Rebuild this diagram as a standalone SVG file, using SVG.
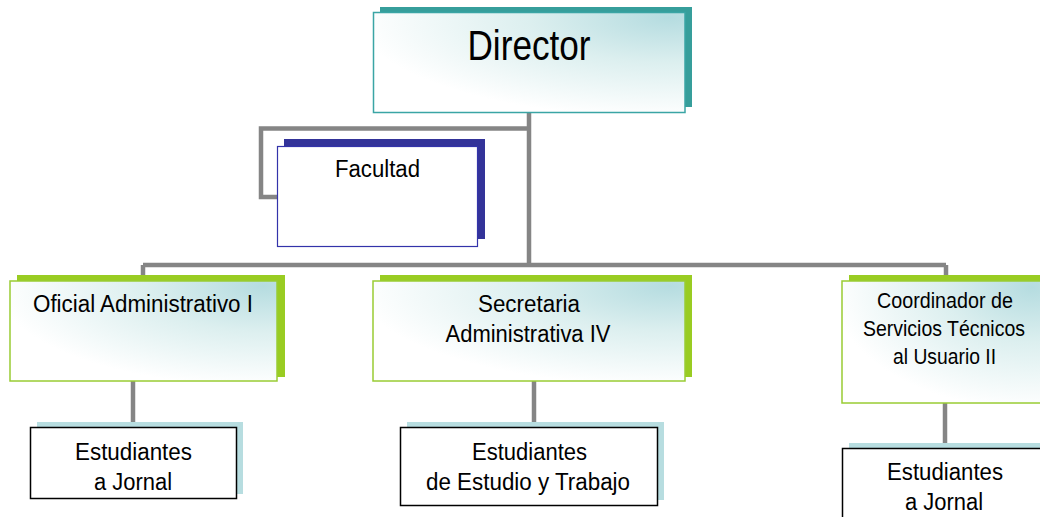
<svg xmlns="http://www.w3.org/2000/svg" width="1040" height="517" viewBox="0 0 1040 517">
<defs>
<radialGradient id="g" cx="0.95" cy="0.05" r="1.0" fx="0.95" fy="0.05">
<stop offset="0" stop-color="#b5dce0"/>
<stop offset="0.45" stop-color="#dcefef"/>
<stop offset="1" stop-color="#ffffff"/>
</radialGradient>
<style>
.t{font-family:"Liberation Sans",Arial,sans-serif;fill:#000;text-anchor:middle}
.con{fill:none;stroke:#858585;stroke-width:4.5}
.sh-teal{fill:#369e9b}
.sh-blue{fill:#333399}
.sh-green{fill:#99cc22}
.sh-light{fill:#b7dde0}
.f-teal{fill:url(#g);stroke:#3aa5a5;stroke-width:1.5}
.f-blue{fill:#fff;stroke:#3333aa;stroke-width:1.2}
.f-green{fill:url(#g);stroke:#99cc33;stroke-width:1.5}
.f-black{fill:#fff;stroke:#000;stroke-width:1.5}
</style>
</defs>
<rect width="1040" height="517" fill="#fff"/>
<g id="connectors">
<path class="con" d="M529 112 V265"/>
<path class="con" d="M529 128.5 H261 V197 H277"/>
<path class="con" d="M143 265 H946"/>
<path class="con" d="M143 265 V281"/>
<path class="con" d="M946 265 V281"/>
<path class="con" d="M133 381 V427"/>
<path class="con" d="M534 381 V428"/>
<path class="con" d="M945 403 V448"/>
</g>
<g id="director">
<rect class="sh-teal" x="380" y="7" width="312" height="100"/>
<rect class="f-teal" x="373.5" y="12.5" width="311.5" height="100"/>
<text class="t" x="529" y="60" font-size="43" textLength="123" lengthAdjust="spacingAndGlyphs">Director</text>
</g>
<g id="facultad">
<rect class="sh-blue" x="284" y="139" width="201" height="100"/>
<rect class="f-blue" x="277.5" y="146.5" width="200" height="100"/>
<text class="t" x="377.5" y="177" font-size="23" textLength="85" lengthAdjust="spacingAndGlyphs">Facultad</text>
</g>
<g id="oficial">
<rect class="sh-green" x="17" y="275" width="268" height="102"/>
<rect class="f-green" x="10" y="281" width="267" height="100"/>
<text class="t" x="143" y="312" font-size="23" textLength="220" lengthAdjust="spacingAndGlyphs">Oficial Administrativo I</text>
</g>
<g id="secretaria">
<rect class="sh-green" x="380" y="275" width="312" height="102"/>
<rect class="f-green" x="373" y="281" width="312" height="100"/>
<text class="t" x="529" y="312" font-size="23" textLength="102" lengthAdjust="spacingAndGlyphs">Secretaria</text>
<text class="t" x="528" y="342" font-size="23" textLength="165" lengthAdjust="spacingAndGlyphs">Administrativa IV</text>
</g>
<g id="coordinador">
<rect class="sh-green" x="849" y="275" width="200" height="122"/>
<rect class="f-green" x="842" y="281" width="200" height="122"/>
<text class="t" x="945" y="308" font-size="22" textLength="136" lengthAdjust="spacingAndGlyphs">Coordinador de</text>
<text class="t" x="944" y="336" font-size="22" textLength="162" lengthAdjust="spacingAndGlyphs">Servicios Técnicos</text>
<text class="t" x="944.5" y="364" font-size="22" textLength="103" lengthAdjust="spacingAndGlyphs">al Usuario II</text>
</g>
<g id="estudiantes-jornal-1">
<rect class="sh-light" x="37" y="422" width="206" height="72"/>
<rect class="f-black" x="30.5" y="427.5" width="206" height="71"/>
<text class="t" x="133.5" y="460" font-size="23" textLength="117" lengthAdjust="spacingAndGlyphs">Estudiantes</text>
<text class="t" x="133" y="490" font-size="23" textLength="78" lengthAdjust="spacingAndGlyphs">a Jornal</text>
</g>
<g id="estudiantes-estudio-trabajo">
<rect class="sh-light" x="407" y="422" width="257" height="78"/>
<rect class="f-black" x="400.5" y="427.5" width="257" height="78"/>
<text class="t" x="529.5" y="460" font-size="23" textLength="115" lengthAdjust="spacingAndGlyphs">Estudiantes</text>
<text class="t" x="528" y="490" font-size="23" textLength="204" lengthAdjust="spacingAndGlyphs">de Estudio y Trabajo</text>
</g>
<g id="estudiantes-jornal-2">
<rect class="sh-light" x="849" y="443" width="200" height="80"/>
<rect class="f-black" x="842.5" y="448.5" width="200" height="80"/>
<text class="t" x="945" y="480" font-size="23" textLength="116" lengthAdjust="spacingAndGlyphs">Estudiantes</text>
<text class="t" x="944" y="510" font-size="23" textLength="78" lengthAdjust="spacingAndGlyphs">a Jornal</text>
</g>
</svg>
